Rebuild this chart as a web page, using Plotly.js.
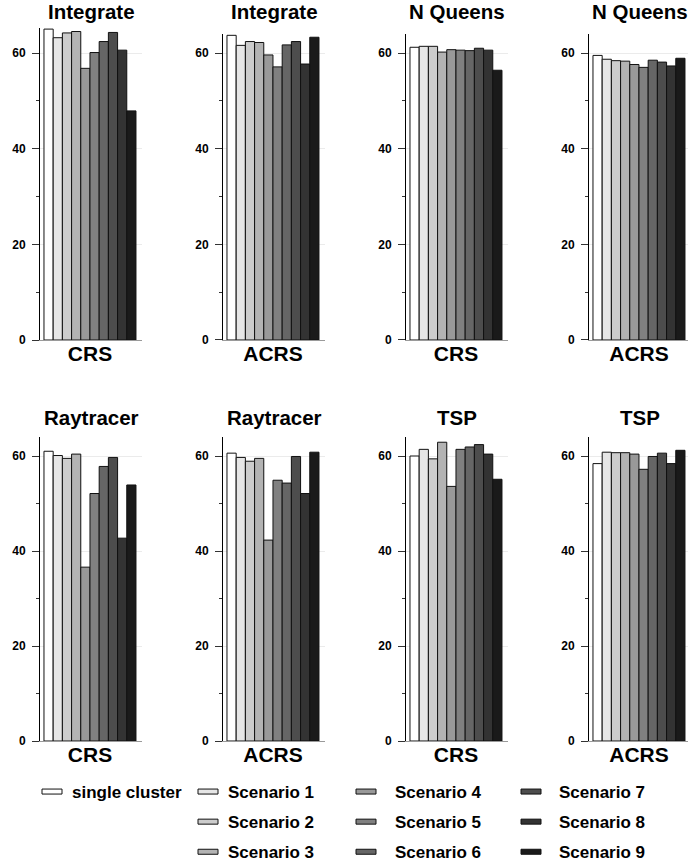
<!DOCTYPE html>
<html>
<head>
<meta charset="utf-8">
<script src="https://cdn.plot.ly/plotly-3.0.1.min.js"></script>
<style>
html,body{margin:0;padding:0;overflow:hidden;background:#fff;}
#chart{width:692px;height:867px;}
</style>
</head>
<body>
<div id="chart"></div>
<script>
// ---- data ----
const seriesNames = ["single cluster","Scenario 1","Scenario 2","Scenario 3","Scenario 4","Scenario 5","Scenario 6","Scenario 7","Scenario 8","Scenario 9"];
const seriesColors = ["#ffffff","#e6e6e6","#cccccc","#b3b3b3","#999999","#808080","#666666","#4d4d4d","#333333","#1a1a1a"];
const panelTitles = ["Integrate","Integrate","N Queens","N Queens","Raytracer","Raytracer","TSP","TSP"];
const panelCategories = ["CRS","ACRS","CRS","ACRS","CRS","ACRS","CRS","ACRS"];
const integrateCRS  = [65.0, 63.2, 64.2, 64.5, 56.8, 60.1, 62.4, 64.3, 60.6, 47.9];
const integrateACRS = [63.7, 61.6, 62.4, 62.2, 59.6, 57.1, 61.7, 62.4, 57.7, 63.3];
const nqueensCRS    = [61.2, 61.4, 61.4, 60.2, 60.7, 60.6, 60.5, 61.0, 60.6, 56.4];
const nqueensACRS   = [59.5, 58.7, 58.4, 58.3, 57.6, 57.0, 58.5, 58.1, 57.3, 58.9];
const raytracerCRS  = [61.0, 60.1, 59.5, 60.4, 36.6, 52.1, 57.8, 59.7, 42.7, 53.9];
const raytracerACRS = [60.6, 59.7, 58.9, 59.5, 42.3, 54.9, 54.3, 59.9, 52.1, 60.8];
const tspCRS        = [60.0, 61.4, 59.4, 62.9, 53.6, 61.4, 61.9, 62.4, 60.4, 55.1];
const tspACRS       = [58.4, 60.8, 60.7, 60.7, 60.4, 57.2, 59.9, 60.6, 58.4, 61.2];
const yTicks = [0, 20, 40, 60];
const yMinorTicks = [10, 30, 50];

const panelData = [integrateCRS, integrateACRS, nqueensCRS, nqueensACRS,
                   raytracerCRS, raytracerACRS, tspCRS, tspACRS];

// ---- layout geometry (pixels) ----
const W = 692, H = 867;
const FONT = "Liberation Sans, Arial, Helvetica, sans-serif";
const colLeft = [40, 223, 406, 589];
const plotW = 102;
const rowBottom = [340, 741];
const pxPerUnit = [4.783, 4.75];
const titleY = [12, 417];

const legendOf = i => (i === 0 ? "legend" : i <= 3 ? "legend2" : i <= 6 ? "legend3" : "legend4");

const traces = [];
const layout = {
  width: W, height: H,
  margin: {l: 0, r: 0, t: 0, b: 0, autoexpand: false},
  paper_bgcolor: "#fff", plot_bgcolor: "#fff",
  barmode: "group", bargap: 0.098, bargroupgap: 0,
  font: {family: FONT, color: "#000", size: 12, weight: "bold"},
  annotations: [],
  showlegend: true
};

panelData.forEach((vals, p) => {
  const row = Math.floor(p / 4), col = p % 4;
  const ax = p === 0 ? "" : String(p + 1);
  const xa = "xaxis" + ax, ya = "yaxis" + ax;
  const x0 = colLeft[col] / W, x1 = (colLeft[col] + plotW) / W;
  const yMax = Math.max(64, Math.max.apply(null, vals) + 0.3);
  const bot = rowBottom[row];
  const top = bot - yMax * pxPerUnit[row];
  layout[xa] = {
    domain: [x0, x1], anchor: "y" + ax, type: "category",
    range: [-0.49, 0.51],
    showline: true, linecolor: "#9a9a9a", linewidth: 1,
    ticks: "", showgrid: false, zeroline: false, fixedrange: true,
    tickfont: {family: FONT, size: 21, color: "#000", weight: "bold"},
    ticklabelstandoff: -5
  };
  layout[ya] = {
    domain: [1 - bot / H, 1 - top / H], anchor: "x" + ax,
    range: [0, yMax], tickvals: yTicks, ticktext: yTicks.map(String),
    showline: true, linecolor: "#000", linewidth: 1,
    ticks: "outside", ticklen: 7, tickcolor: "#333", tickwidth: 1,
    minor: {tickvals: yMinorTicks, ticks: "outside", ticklen: 3, tickcolor: "#333", showgrid: false},
    showgrid: true, gridcolor: "#ebebeb", gridwidth: 1,
    zeroline: false, fixedrange: true,
    tickfont: {family: FONT, size: 12, color: "#000", weight: "bold"},
    ticklabelstandoff: 4
  };
  layout.annotations.push({
    text: panelTitles[p], xref: "paper", yref: "paper",
    x: (colLeft[col] + plotW / 2) / W, y: 1 - titleY[row] / H,
    xanchor: "center", yanchor: "middle", showarrow: false,
    font: {family: FONT, size: 20.5, color: "#000", weight: "bold"}
  });
  vals.forEach((v, i) => {
    traces.push({
      type: "bar", name: seriesNames[i],
      x: [panelCategories[p]], y: [v],
      xaxis: "x" + ax, yaxis: "y" + ax,
      marker: {color: seriesColors[i], line: {color: "#111", width: 1}},
      showlegend: p === 0, legend: legendOf(i), legendgroup: "g" + i,
      hoverinfo: "skip"
    });
  });
});

// legends (text start x)
const legTextX = [72, 228, 395, 559];
const legendDefs = ["legend", "legend2", "legend3", "legend4"];
legendDefs.forEach((lg, k) => {
  layout[lg] = {
    x: (legTextX[k] - 40) / W, y: 1 - 774 / H,
    xanchor: "left", yanchor: "top", orientation: "v",
    bgcolor: "rgba(0,0,0,0)", borderwidth: 0,
    tracegroupgap: 5, itemclick: false, itemdoubleclick: false,
    font: {family: FONT, size: 17, color: "#000", weight: "bold"}
  };
});

// symbol center offset relative to default position
const symShift = [0, 0, -9, -8];

Plotly.newPlot("chart", traces, layout, {staticPlot: true, displayModeBar: false}).then(gd => {
  legendDefs.forEach((name, k) => {
    const dx = symShift[k];
    gd.querySelectorAll("g." + name + " .legendpoints path").forEach(pth => {
      pth.setAttribute("d", `M${dx + 10},2.5H${dx - 10}V-2.5H${dx + 10}Z`);
    });
  });
});
</script>
</body>
</html>
